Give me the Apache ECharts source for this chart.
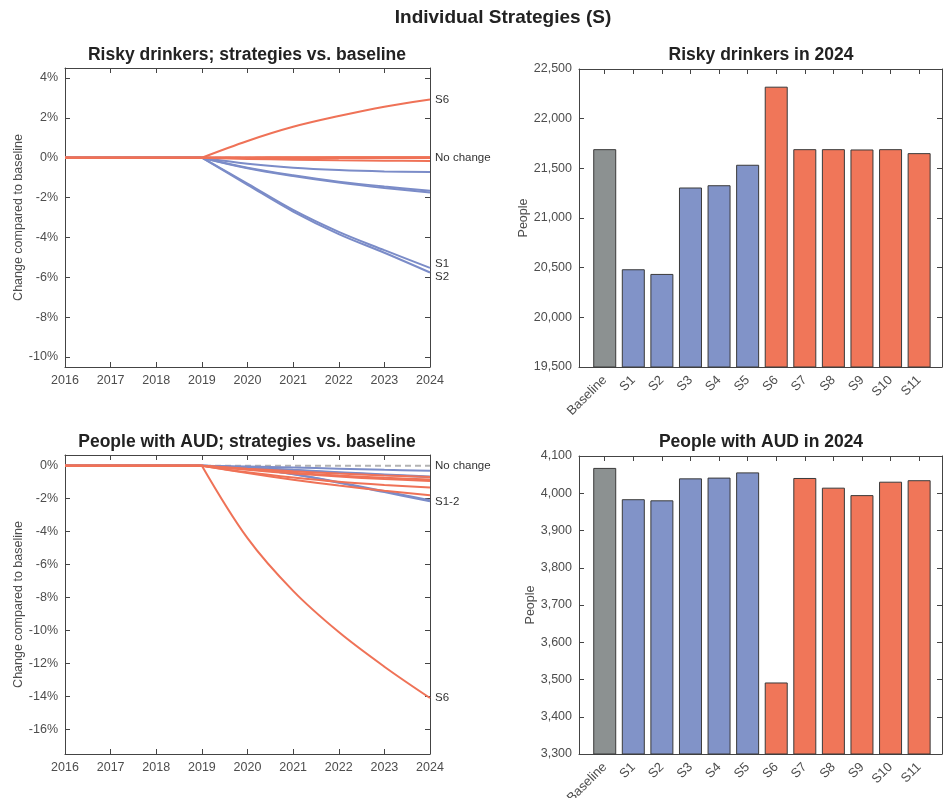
<!DOCTYPE html>
<html><head><meta charset="utf-8">
<script src="https://cdn.jsdelivr.net/npm/echarts@6/dist/echarts.min.js"></script>
<style>html,body{margin:0;padding:0;background:#fff}#c{width:944px;height:798px}</style>
</head><body><div id="c"></div><script>
// ---------- data ----------
const years = [2016, 2017, 2018, 2019, 2020, 2021, 2022, 2023, 2024];
const strategies = ['S1','S2','S3','S4','S5','S6','S7','S8','S9','S10','S11'];
const barCategories = ['Baseline','S1','S2','S3','S4','S5','S6','S7','S8','S9','S10','S11'];
const barGroups = ['base','blue','blue','blue','blue','blue','orange','orange','orange','orange','orange','orange'];

// Risky drinkers, % change vs baseline (2016..2024)
const riskyS1  = [0,0,0,0,-1.30,-2.62,-3.72,-4.64,-5.53];
const riskyS2  = [0,0,0,0,-1.36,-2.70,-3.83,-4.77,-5.76];
const riskyS3  = [0,0,0,0,-0.53,-0.92,-1.25,-1.52,-1.75];
const riskyS4  = [0,0,0,0,-0.50,-0.88,-1.20,-1.45,-1.66];
const riskyS5  = [0,0,0,0,-0.30,-0.50,-0.62,-0.69,-0.72];
const riskyS6  = [0,0,0,0,0.84,1.55,2.09,2.56,2.92];
const riskyS7  = [0,0,0,0,0.01,0.01,0.02,0.02,0.02];
const riskyS8  = [0,0,0,0,0.00,0.01,0.01,0.01,0.01];
const riskyS9  = [0,0,0,0,-0.01,-0.01,-0.01,-0.01,-0.01];
const riskyS10 = [0,0,0,0,0.00,0.01,0.01,0.01,0.01];
const riskyS11 = [0,0,0,0,-0.06,-0.10,-0.13,-0.15,-0.17];

// People with AUD, % change vs baseline (2016..2024)
const audS1  = [0,0,0,0,-0.15,-0.50,-1.00,-1.55,-2.09];
const audS2  = [0,0,0,0,-0.16,-0.52,-1.03,-1.60,-2.16];
const audS3  = [0,0,0,0,-0.12,-0.27,-0.42,-0.56,-0.70];
const audS4  = [0,0,0,0,-0.11,-0.25,-0.39,-0.53,-0.66];
const audS5  = [0,0,0,0,-0.05,-0.11,-0.18,-0.25,-0.31];
const audS6  = [0,0,0,0,-4.40,-7.60,-10.10,-12.20,-14.10];
const audS7  = [0,0,0,0,-0.18,-0.34,-0.48,-0.59,-0.68];
const audS8  = [0,0,0,0,-0.40,-0.72,-0.98,-1.17,-1.32];
const audS9  = [0,0,0,0,-0.45,-0.85,-1.20,-1.52,-1.80];
const audS10 = [0,0,0,0,-0.25,-0.47,-0.66,-0.81,-0.93];
const audS11 = [0,0,0,0,-0.22,-0.42,-0.60,-0.73,-0.84];

// 2024 totals
const riskyBars = [21693, 20484, 20437, 21307, 21330, 21536, 22322, 21693, 21693, 21690, 21693, 21653];
const audBars   = [4068, 3984, 3981, 4040, 4042, 4056, 3492, 4041, 4015, 3995, 4031, 4035];

const riskyPctTicks = [-10,-8,-6,-4,-2,0,2,4];
const audPctTicks = [-16,-14,-12,-10,-8,-6,-4,-2,0];
const barTickIdx = [0,1,2,3,4,5,6,7,8,9,10,11];

// ---------- styles ----------
const FONT = "'Liberation Sans', Arial, Helvetica, sans-serif";
const axisColor = '#444';
const labelColor = '#4d4d4d';
const blueLine = '#7b8cc8', orangeLine = '#ef7257';
const barFill = { base: '#8c9191', blue: '#8193c8', orange: '#f07659' };

const riskyLines = [riskyS1,riskyS2,riskyS3,riskyS4,riskyS5,riskyS6,riskyS7,riskyS8,riskyS9,riskyS10,riskyS11];
const audLines = [audS1,audS2,audS3,audS4,audS5,audS6,audS7,audS8,audS9,audS10,audS11];

const grids = [
  { left: 65, top: 68, width: 365, height: 299, outerBoundsMode: 'none', containLabel: false },
  { left: 579, top: 69, width: 363, height: 298, outerBoundsMode: 'none', containLabel: false },
  { left: 65, top: 455, width: 365, height: 299, outerBoundsMode: 'none', containLabel: false },
  { left: 579, top: 456, width: 363, height: 298, outerBoundsMode: 'none', containLabel: false }
];

function tickStyle(custom) {
  const t = { show: true, inside: true, length: 5, lineStyle: { color: axisColor, width: 1 } };
  if (custom) t.customValues = custom;
  return t;
}
const lineStyleAxis = { show: true, onZero: false, lineStyle: { color: axisColor, width: 1 } };

const xAxes = [], yAxes = [];
function addLineAxes(g, ymin, ymax, ticks) {
  xAxes.push({ gridIndex: g, type: 'value', min: 2016, max: 2024, interval: 1, position: 'bottom',
    axisLine: lineStyleAxis, axisTick: tickStyle(), splitLine: { show: false },
    axisLabel: { color: labelColor, fontSize: 12.5, fontFamily: FONT, margin: 7, formatter: v => String(v) } });
  xAxes.push({ gridIndex: g, type: 'value', min: 2016, max: 2024, interval: 1, position: 'top',
    axisLine: lineStyleAxis, axisTick: tickStyle(), splitLine: { show: false }, axisLabel: { show: false } });
  yAxes.push({ gridIndex: g, type: 'value', min: ymin, max: ymax, position: 'left',
    name: 'Change compared to baseline', nameLocation: 'middle', nameGap: 36,
    nameTextStyle: { color: labelColor, fontSize: 12.5, fontFamily: FONT },
    axisLine: lineStyleAxis, axisTick: tickStyle(ticks), splitLine: { show: false },
    axisLabel: { customValues: ticks, color: labelColor, fontSize: 12.5, fontFamily: FONT, margin: 7, formatter: v => v + '%' } });
  yAxes.push({ gridIndex: g, type: 'value', min: ymin, max: ymax, position: 'right',
    axisLine: lineStyleAxis, axisTick: tickStyle(ticks), splitLine: { show: false }, axisLabel: { show: false } });
}
function addBarAxes(g, ymin, ymax, step, nameGap) {
  xAxes.push({ gridIndex: g, type: 'value', min: -0.9, max: 11.8, position: 'bottom',
    axisLine: lineStyleAxis, axisTick: tickStyle(barTickIdx), splitLine: { show: false },
    axisLabel: { customValues: barTickIdx, color: labelColor, fontSize: 13, fontFamily: FONT, rotate: 45, margin: 11,
      formatter: v => barCategories[Math.round(v)] } });
  xAxes.push({ gridIndex: g, type: 'value', min: -0.9, max: 11.8, position: 'top',
    axisLine: lineStyleAxis, axisTick: tickStyle(barTickIdx), splitLine: { show: false }, axisLabel: { show: false } });
  yAxes.push({ gridIndex: g, type: 'value', min: ymin, max: ymax, interval: step, position: 'left',
    name: 'People', nameLocation: 'middle', nameGap: nameGap,
    nameTextStyle: { color: labelColor, fontSize: 12.5, fontFamily: FONT },
    axisLine: lineStyleAxis, axisTick: tickStyle(), splitLine: { show: false },
    axisLabel: { color: labelColor, fontSize: 12.5, fontFamily: FONT, margin: 7, formatter: v => v.toLocaleString('en-US') } });
  yAxes.push({ gridIndex: g, type: 'value', min: ymin, max: ymax, interval: step, position: 'right',
    axisLine: lineStyleAxis, axisTick: tickStyle(), splitLine: { show: false }, axisLabel: { show: false } });
}
addLineAxes(0, -10.5, 4.5, riskyPctTicks);
addBarAxes(1, 19500, 22500, 500, 49);
addLineAxes(2, -17.5, 0.65, audPctTicks);
addBarAxes(3, 3300, 4100, 100, 42);

const endLabelBase = { show: true, color: '#333', fontSize: 11.5, fontFamily: FONT, distance: 5 };

function buildLines(g, lines, labels) {
  const xi = g * 2, yi = g * 2;
  const out = [];
  out.push({ type: 'line', xAxisIndex: xi, yAxisIndex: yi, data: years.map(y => [y, 0]),
    showSymbol: false, silent: true, z: 1, animation: false,
    lineStyle: { color: '#b3b3b3', width: 2, type: [6, 4] },
    endLabel: Object.assign({}, endLabelBase, { formatter: 'No change' }) });
  const order = [];
  strategies.forEach((s, i) => { if (barGroups[i + 1] === 'blue') order.push(i); });
  strategies.forEach((s, i) => { if (barGroups[i + 1] === 'orange') order.push(i); });
  order.forEach(i => {
    const vals = lines[i];
    const color = barGroups[i + 1] === 'blue' ? blueLine : orangeLine;
    const z = barGroups[i + 1] === 'blue' ? 2 : 3;
    out.push({ type: 'line', xAxisIndex: xi, yAxisIndex: yi, z: z, animation: false, silent: true,
      data: years.slice(0, 4).map((y, k) => [y, vals[k]]), showSymbol: false,
      lineStyle: { color: color, width: 2 } });
    const s = { type: 'line', xAxisIndex: xi, yAxisIndex: yi, z: z, animation: false, silent: true,
      data: years.slice(3).map((y, k) => [y, vals[k + 3]]), showSymbol: false, smooth: 0.35,
      lineStyle: { color: color, width: 2 } };
    const lab = labels[strategies[i]];
    if (lab) s.endLabel = Object.assign({}, endLabelBase, { formatter: lab.text, offset: [0, lab.dy] });
    out.push(s);
  });
  return out;
}
function buildBars(g, vals) {
  return [{ type: 'bar', xAxisIndex: g * 2, yAxisIndex: g * 2, barWidth: 23, animation: false, silent: true,
    data: vals.map((v, i) => ({ value: [i, v], itemStyle: { color: barFill[barGroups[i]] } })),
    itemStyle: { borderColor: '#3a3a3a', borderWidth: 1 } }];
}

const series = [].concat(
  buildLines(0, riskyLines, { S6: { text: 'S6', dy: 0 }, S1: { text: 'S1', dy: -4 }, S2: { text: 'S2', dy: 4 } }),
  buildBars(1, riskyBars),
  buildLines(2, audLines, { S2: { text: 'S1-2', dy: 1 }, S6: { text: 'S6', dy: 0 } }),
  buildBars(3, audBars)
);

function titleText(x, y, text, size) {
  return { type: 'text', x: x, y: y, silent: true,
    style: { text: text, fill: '#222', font: 'bold ' + size + 'px ' + FONT, textAlign: 'center', textVerticalAlign: 'middle' } };
}

const chart = echarts.init(document.getElementById('c'), null, { renderer: 'canvas' });
chart.setOption({
  backgroundColor: '#fff',
  animation: false,
  grid: grids,
  xAxis: xAxes,
  yAxis: yAxes,
  series: series,
  graphic: [
    titleText(503, 18, 'Individual Strategies (S)', 19),
    titleText(247, 55, 'Risky drinkers; strategies vs. baseline', 17.5),
    titleText(761, 55, 'Risky drinkers in 2024', 17.5),
    titleText(247, 442, 'People with AUD; strategies vs. baseline', 17.5),
    titleText(761, 442, 'People with AUD in 2024', 17.5)
  ]
});
</script></body></html>
